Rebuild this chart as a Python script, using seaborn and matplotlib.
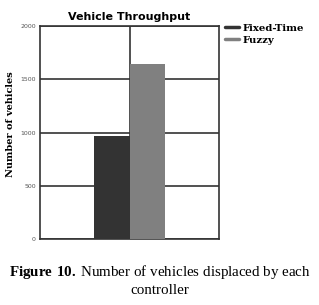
import matplotlib
matplotlib.use("Agg")
import matplotlib.pyplot as plt
import seaborn as sns
import pandas as pd
from matplotlib.lines import Line2D

controllers = ["Fixed-Time", "Fuzzy"]
vehicles = [965, 1645]
colors = ["#333333", "#808080"]
yticks = [0, 500, 1000, 1500, 2000]

sns.set_theme(style="white")
plt.rcParams['font.family'] = ['DejaVu Sans']
plt.rcParams['text.color'] = 'black'
plt.rcParams['axes.labelcolor'] = 'black'
plt.rcParams['mathtext.fontset'] = 'custom'
plt.rcParams['mathtext.rm'] = 'Liberation Serif'
plt.rcParams['mathtext.bf'] = 'Liberation Serif:bold'

df = pd.DataFrame({"group": [""] * len(controllers), "controller": controllers, "vehicles": vehicles})

fig = plt.figure(figsize=(3.19, 3.05), dpi=100)
ax = fig.add_axes([0.125, 0.216, 0.562, 0.699])
sns.barplot(data=df, x="group", y="vehicles", hue="controller", palette=colors,
            width=0.40, saturation=1, ax=ax, legend=False, zorder=3, edgecolor="none")
ax.set_ylim(0, 2000)
ax.set_xlim(-0.5, 0.5)
ax.set_yticks(yticks)
ax.set_yticklabels([str(v) for v in yticks], fontsize=4.5, color="#555555")
ax.set_xticks([0])
ax.set_xticklabels([""])
ax.tick_params(axis="y", length=2, pad=1, color="#333333")
ax.tick_params(axis="x", length=0)
ax.grid(True, axis="both", color="#333333", linewidth=1.2, zorder=0)
ax.set_axisbelow(True)
for s in ax.spines.values():
    s.set_color("#333333")
    s.set_linewidth(1.2)
ax.set_xlabel("")
ax.set_ylabel("Number of vehicles", fontsize=7, fontweight="bold", family="DejaVu Serif", color="black")
ax.yaxis.set_label_coords(-0.14, 0.54)
ax.set_title("Vehicle Throughput", fontsize=8, fontweight="heavy", pad=4, color="black")

handles = [Line2D([0], [0], color=c, lw=2.5) for c in colors]
leg = ax.legend(handles, controllers, loc="upper left", bbox_to_anchor=(1.0, 1.04), frameon=False,
                prop={"family": "DejaVu Serif", "weight": "bold", "size": 7.3},
                handlelength=1.4, handletextpad=0.3, labelspacing=0.3, borderaxespad=0.2)
for t in leg.get_texts():
    t.set_color("black")

fig.text(0.5, 1 - 272 / 305, r"$\mathbf{Figure\ 10.}\,$Number of vehicles displaced by each",
         ha="center", va="center", fontsize=10.8, family="Liberation Serif", color="black")
fig.text(0.5, 1 - 290 / 305, "controller", ha="center", va="center", fontsize=10.8,
         family="Liberation Serif", color="black")

fig.savefig("out.png", dpi=100)
